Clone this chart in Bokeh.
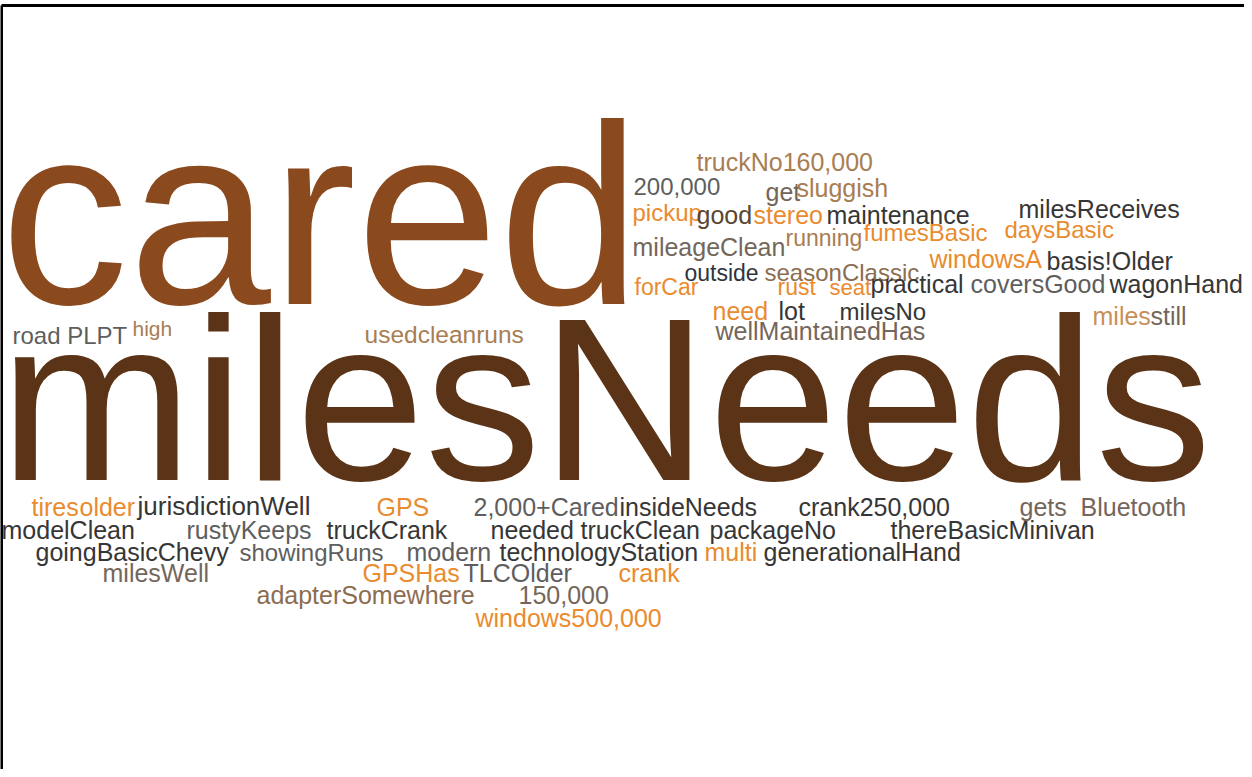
from bokeh.plotting import figure
from bokeh.models import Range1d, ColumnDataSource
from bokeh.core.properties import value
from bokeh.embed import file_html
from bokeh.resources import INLINE

# ---------------- data: words of the cloud and their relative weights ----------------
words = [
    "cared", "milesNeeds",
    "truckNo160,000", "200,000", "get", "sluggish",
    "pickup", "good", "stereo", "maintenance", "milesReceives",
    "mileageClean", "running", "fumesBasic", "daysBasic",
    "outside", "seasonClassic", "windowsA", "basis!Older",
    "forCar", "rust", "seat", "practical", "coversGood", "wagonHand",
    "need", "lot", "milesNo", "miles", "still",
    "wellMaintainedHas", "road PLPT", "high", "usedcleanruns",
    "tires", "older", "jurisdictionWell", "GPS", "2,000+Cared", "insideNeeds",
    "crank250,000", "gets", "Bluetooth",
    "modelClean", "rustyKeeps", "truckCrank", "needed", "truckClean", "packageNo",
    "thereBasicMinivan",
    "goingBasicChevy", "showingRuns", "modern", "technologyStation", "multi",
    "generationalHand",
    "milesWell", "GPSHas", "TLCOlder", "crank",
    "adapterSomewhere", "150,000",
    "windows500,000",
]
# relative weight (1.0 = a word used once)
weights = [
    10.24, 9.28,
    1.0, 0.96, 1.0, 1.0,
    0.96, 1.0, 1.0, 1.0, 1.0,
    1.0, 0.92, 0.96, 0.96,
    0.92, 0.96, 1.0, 1.0,
    0.92, 0.92, 0.88, 1.0, 1.0, 1.0,
    1.0, 1.0, 0.96, 1.0, 1.0,
    1.0, 0.96, 0.84, 0.98,
    1.0, 1.0, 1.04, 1.0, 1.0, 1.0,
    1.0, 1.0, 1.0,
    1.0, 1.0, 1.0, 1.0, 1.0, 1.0,
    1.0,
    1.0, 0.96, 1.0, 1.0, 1.0,
    1.0,
    1.0, 1.0, 1.0, 1.0,
    1.0, 1.0,
    1.0,
]
# colour group of each word
tones = [
    "cared", "dark",
    "tan", "gray", "graybrown", "tan",
    "orange", "darkbrown", "orange", "charcoal", "charcoal",
    "graybrown", "tan", "orange", "orange",
    "navy", "sandbrown", "orange", "charcoal",
    "orange", "orange", "orange", "charcoal", "gray", "charcoal",
    "orange", "charcoal", "charcoal", "lighttan", "graybrown",
    "graybrown", "gray", "tan", "tan",
    "orange", "orange", "charcoal", "orange", "gray", "charcoal",
    "charcoal", "graybrown", "graybrown",
    "charcoal", "gray", "charcoal", "charcoal", "charcoal", "charcoal",
    "charcoal",
    "charcoal", "gray", "gray", "charcoal", "orange",
    "charcoal",
    "graybrown", "orange", "gray", "orange",
    "sandbrown", "graybrown",
    "orange",
]

# ---------------- layout (pixel placement of each word, baseline-left) ----------------
pos_x = [
    8, 7,
    704, 641, 773, 804,
    640, 704, 761, 834, 1026,
    640, 793, 871, 1012,
    692, 772, 937, 1054,
    642, 785, 837, 878, 978, 1117,
    720, 786, 847, 1100, 1158,
    723, 20, 140, 372,
    39, 87, 145, 384, 481, 627,
    806, 1027, 1088,
    9, 194, 334, 498, 588, 717,
    898,
    43, 247, 414, 507, 712,
    771,
    110, 370, 471, 626,
    264, 526,
    483,
]
pos_y = [
    312, 488,
    178, 202, 208, 204,
    228, 231, 231, 231, 225,
    263, 254, 248, 245,
    289, 288, 275, 277,
    303, 303, 303, 300, 300, 300,
    327, 327, 327, 332, 332,
    347, 351, 343, 351,
    523, 523, 523, 523, 523, 523,
    523, 523, 523,
    546, 546, 546, 546, 546, 546,
    546,
    568, 568, 568, 568, 568,
    568,
    589, 589, 589, 589,
    611, 611,
    634,
]

BASE_PX = 25
BASELINE_FIX = 0.35   # renderer places the alphabetic baseline this many em low
PALETTE = {
    "cared": "#8B4A1E",
    "dark": "#5B3316",
    "tan": "#A97D52",
    "lighttan": "#C98E5A",
    "gray": "#5E5E5E",
    "graybrown": "#74665A",
    "darkbrown": "#5A4631",
    "sandbrown": "#8C6D50",
    "charcoal": "#363636",
    "navy": "#2E3440",
    "orange": "#E98B2E",
}

sizes_px = [BASE_PX * w for w in weights]
src = ColumnDataSource(dict(
    x=pos_x,
    y=[y - BASELINE_FIX * s for y, s in zip(pos_y, sizes_px)],
    word=words,
    size=["%.1fpx" % s for s in sizes_px],
    color=[PALETTE[t] for t in tones],
))

p = figure(width=1244, height=769, output_backend="svg", toolbar_location=None,
           x_range=Range1d(8, 1252), y_range=Range1d(777, 8),
           x_axis_type=None, y_axis_type=None, min_border=0,
           background_fill_color="white", border_fill_color="white")
p.outline_line_color = None
p.grid.visible = False

# frame of the original picture
FRAME_LEFT, FRAME_TOP = 9, 13
p.segment(x0=[FRAME_LEFT, FRAME_LEFT], y0=[FRAME_TOP, FRAME_TOP],
          x1=[FRAME_LEFT, 1252], y1=[777, FRAME_TOP],
          line_color="black", line_width=3)

p.text(x="x", y="y", text="word", source=src,
       text_font=value("Liberation Sans"), text_font_size="size",
       text_color="color", text_align="left", text_baseline="alphabetic")

open("out.html", "w").write(file_html(p, INLINE))
